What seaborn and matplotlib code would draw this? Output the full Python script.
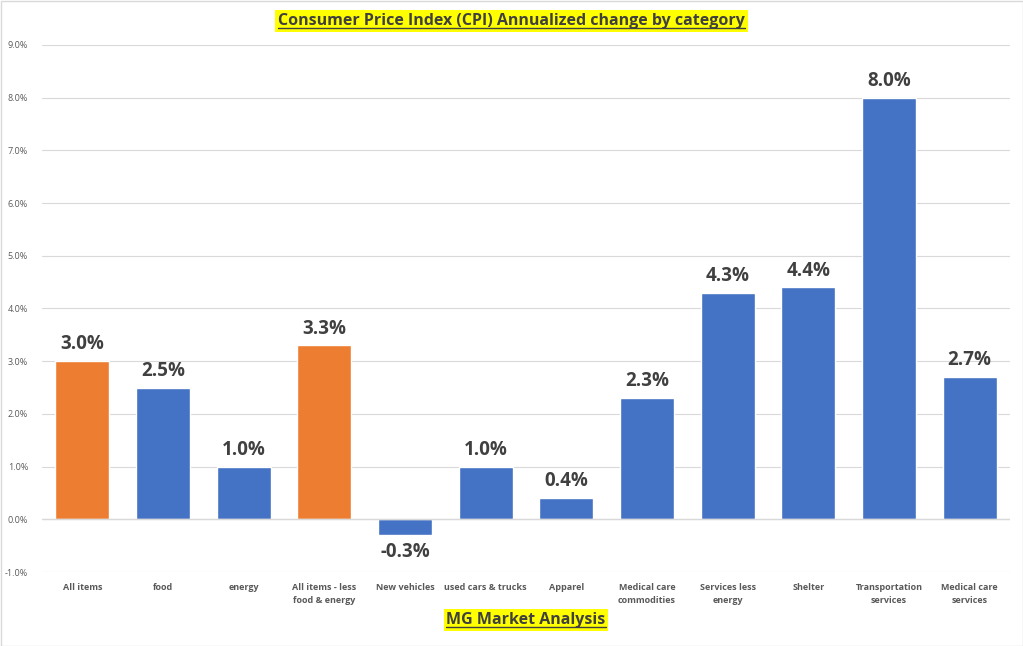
import matplotlib
matplotlib.use("Agg")
import matplotlib.pyplot as plt
import seaborn as sns
import pandas as pd
from matplotlib.lines import Line2D
from matplotlib.patches import Rectangle

categories = ["All items", "food", "energy", "All items - less\nfood & energy",
              "New vehicles", "used cars & trucks", "Apparel", "Medical care\ncommodities",
              "Services less\nenergy", "Shelter", "Transportation\nservices", "Medical care\nservices"]
values = [3.0, 2.5, 1.0, 3.3, -0.3, 1.0, 0.4, 2.3, 4.3, 4.4, 8.0, 2.7]
groups = ["headline", "component", "component", "headline", "component", "component",
          "component", "component", "component", "component", "component", "component"]
yticks = [-1, 0, 1, 2, 3, 4, 5, 6, 7, 8, 9]

sns.set_theme(style="white")
plt.rcParams['font.family'] = ['Open Sans', 'DejaVu Sans']

W, H = 1023, 646
fig = plt.figure(figsize=(W / 100, H / 100), dpi=100)
ax = fig.add_axes([42 / W, 1 - 572 / H, (1010 - 42) / W, (572 - 45) / H])

df = pd.DataFrame({"cat": categories, "val": values, "grp": groups})
palette = {"headline": "#ED7D31", "component": "#4472C4"}
sns.barplot(data=df, x="cat", y="val", hue="grp", palette=palette, dodge=False,
            width=0.67, legend=False, ax=ax, saturation=1)

ax.set_ylim(-1, 9)
ax.set_xlim(-0.5, len(categories) - 0.5)
ax.set_yticks(yticks)
ax.set_yticklabels([f"{t:.1f}%" for t in yticks], fontsize=6.5, color="#595959")
ax.yaxis.grid(True, color="#D9D9D9", linewidth=0.8)
ax.set_axisbelow(True)
ax.axhline(0, color="#D9D9D9", linewidth=1.0, zorder=1)
for s in ax.spines.values():
    s.set_visible(False)
ax.tick_params(axis="both", length=0)
ax.tick_params(axis="y", pad=10)
ax.tick_params(axis="x", pad=8)
ax.set_xticks(range(len(categories)))
ax.set_xticklabels(categories, fontsize=6.5, color="#595959", fontweight="bold",
                   linespacing=1.5, va="top")
ax.set_xlabel("")
ax.set_ylabel("")

for i, v in enumerate(values):
    if v >= 0:
        ax.text(i, v + 0.13, f"{v:.1f}%", ha="center", va="bottom", fontsize=13.5,
                fontweight="bold", color="#404040")
    else:
        ax.text(i, v - 0.13, f"{v:.1f}%", ha="center", va="top", fontsize=13.5,
                fontweight="bold", color="#404040")

title = fig.text(0.5, 1 - 21 / H, "Consumer Price Index (CPI) Annualized change by category",
                 ha="center", va="center", fontsize=11.5, fontweight="bold", color="#404040",
                 bbox=dict(facecolor="#FFFF00", edgecolor="none", pad=2))
foot = fig.text(526 / W, 1 - 620 / H, "MG Market Analysis", ha="center", va="center",
                fontsize=11.5, fontweight="bold", color="#404040",
                bbox=dict(facecolor="#FFFF00", edgecolor="none", pad=2))

fig.canvas.draw()
r = fig.canvas.get_renderer()
for t in (title, foot):
    bb = t.get_window_extent(renderer=r)
    y = (bb.y0 + 1.5) / H
    fig.add_artist(Line2D([bb.x0 / W, bb.x1 / W], [y, y], color="#404040", linewidth=1.0,
                          zorder=10))

fig.add_artist(Rectangle((0.5 / W, 0.5 / H), 1 - 1 / W, 1 - 1 / H, transform=fig.transFigure,
                         fill=False, edgecolor="#D9D9D9", linewidth=1.0))

fig.savefig("out.png", dpi=100)
